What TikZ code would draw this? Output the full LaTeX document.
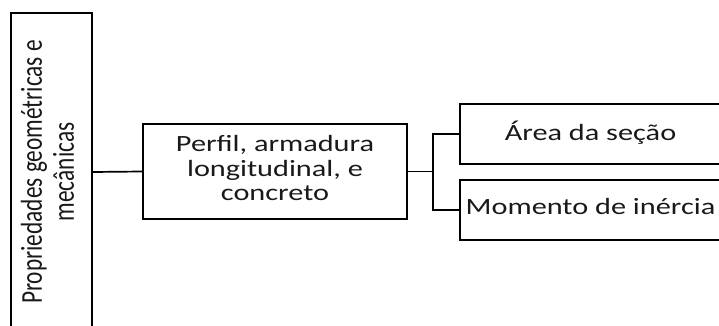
\documentclass[tikz,border=0pt]{standalone}
\usepackage{fontspec}
\setmainfont{Carlito}
% wide lettering: glyphs stretched sideways
\newcommand{\widetext}[1]{\raisebox{-2.5pt}{\scalebox{1.3}[1]{\begin{tabular}{@{}c@{}}#1\end{tabular}}}}
\newcommand{\tallwidetext}[1]{\scalebox{1}[1.3]{\begin{tabular}{@{}c@{}}#1\end{tabular}}}
\tikzset{
  box/.style={draw=black, line width=2pt, rectangle, inner sep=0pt, text=black!90,
    font=\fontsize{23.3}{24.5}\selectfont},
  link/.style={draw=black, line width=1.7pt}
}
\begin{document}
\begin{tikzpicture}[x=1pt, y=-1pt]
  \useasboundingbox (0,0) rectangle (719,326);
  \clip (0,0) rectangle (719,326);

  % left column, set sideways
  \node[box, rotate=90, minimum width=318pt, minimum height=81pt] (prop) at (51.5,172)
    {\tallwidetext{Propriedades geométricas e\\mecânicas}};

  % middle box
  \node[box, minimum width=264pt, minimum height=95pt] (mid) at (275,171.5)
    {\widetext{Perfil, armadura\\longitudinal, e\\concreto}};

  % right boxes
  \node[box, minimum width=261pt, minimum height=60pt] (area) at (590.5,134)
    {\widetext{Área da seção}};
  \node[box, minimum width=261pt, minimum height=60pt] (mom) at (590.5,210)
    {\widetext{Momento de inércia}};

  % connectors
  \coordinate (fork) at (433,171.5);
  \draw[link] (prop.south) -- (mid.west);
  \draw[link] (mid.east) -- (fork);
  \draw[link] (area.west) -| (fork) |- (mom.west);
\end{tikzpicture}
\end{document}
